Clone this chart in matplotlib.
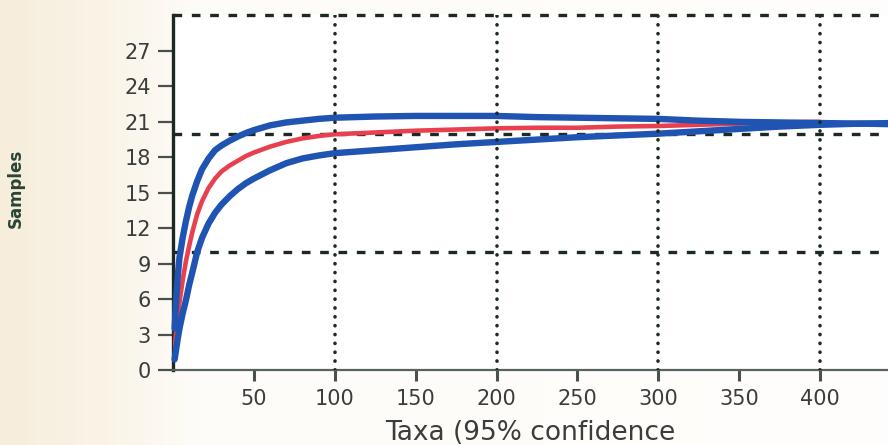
import matplotlib
matplotlib.use("Agg")
import matplotlib.pyplot as plt
import numpy as np
from matplotlib.colors import LinearSegmentedColormap

# Rarefaction curve: mean with upper / lower 95% confidence bounds
taxa = [1, 2, 3, 4, 6, 8, 10, 12, 15, 18, 22, 26, 30, 35, 40, 45, 50, 60,
        70, 80, 90, 100, 125, 150, 175, 200, 225, 250, 275, 300, 325, 350,
        375, 400, 425, 445]
upper = [3.5, 6.0, 8.0, 9.5, 11.2, 12.6, 13.8, 14.8, 16.0, 17.0, 17.9,
         18.6, 19.0, 19.4, 19.75, 20.05, 20.3, 20.7, 20.95, 21.1, 21.25,
         21.35, 21.45, 21.5, 21.5, 21.5, 21.4, 21.35, 21.3, 21.25, 21.1,
         21.0, 20.95, 20.9, 20.85, 20.8]
mean = [1.8, 3.3, 4.6, 5.7, 7.6, 9.2, 10.5, 11.7, 13.2, 14.3, 15.4, 16.2,
        16.8, 17.3, 17.7, 18.1, 18.4, 18.9, 19.3, 19.6, 19.8, 19.95, 20.1,
        20.25, 20.35, 20.45, 20.5, 20.5, 20.6, 20.65, 20.75, 20.85, 20.95,
        21.0]
lower = [0.9, 1.8, 2.7, 3.5, 4.8, 5.9, 7.2, 8.3, 10.0, 11.2, 12.4, 13.3,
         14.0, 14.7, 15.3, 15.8, 16.2, 16.9, 17.5, 17.9, 18.15, 18.35,
         18.6, 18.85, 19.1, 19.3, 19.5, 19.7, 19.85, 20.0, 20.2, 20.4,
         20.6, 20.75, 20.85, 20.9]

x_ticks = [50, 100, 150, 200, 250, 300, 350, 400]
y_ticks = [0, 3, 6, 9, 12, 15, 18, 21, 24, 27]
h_grid = [10, 20, 30]
v_grid = [100, 200, 300, 400]

BLUE = "#1f54b3"
RED = "#e8404f"
INK = "#1d2a24"
TXT = "#3a3d3c"

fig = plt.figure(figsize=(8.88, 4.45), dpi=100, facecolor="#fdfcf8")

# paper tint: cream on the left fading to white
bg = fig.add_axes([0, 0, 1, 1], zorder=-10)
bg.set_axis_off()
paper = LinearSegmentedColormap.from_list(
    "paper", [(0.0, "#f6eddb"), (0.12, "#faf4e8"), (0.22, "#fefcf8"),
              (1.0, "#fefefc")])
bg.imshow(np.linspace(0, 1, 256)[None, :], aspect="auto", cmap=paper,
          extent=[0, 1, 0, 1])
bg.set_xlim(0, 1)
bg.set_ylim(0, 1)

ax = fig.add_axes([0.1948, 0.1685, 0.8052, 0.7967])
ax.set_facecolor("white")

ax.set_xlim(0, 442)
ax.set_ylim(0, 30)

# dashed horizontal guides (below curves)
for yv in h_grid:
    ax.axhline(yv, color=INK, lw=2.4, linestyle=(0, (2.6, 2.9)),
               zorder=1.5, clip_on=False)

ax.plot(taxa[:len(mean)], mean, color=RED, lw=3.3, zorder=3,
        solid_capstyle="round")
ax.plot(taxa, lower, color=BLUE, lw=4.6, zorder=3.2, solid_capstyle="round",
        solid_joinstyle="round", clip_on=False)
ax.plot(taxa, upper, color=BLUE, lw=4.6, zorder=3.2, solid_capstyle="round",
        solid_joinstyle="round", clip_on=False)

# dotted vertical guides (over curves)
for xv in v_grid:
    ax.axvline(xv, color=INK, lw=2.6, linestyle=(0, (0.05, 2.4)),
               dash_capstyle="round", zorder=4)

for side in ("top", "right"):
    ax.spines[side].set_visible(False)
ax.spines["left"].set_color(INK)
ax.spines["left"].set_linewidth(2.4)
ax.spines["bottom"].set_color("#5a6260")
ax.spines["bottom"].set_linewidth(1.6)

ax.set_xticks(x_ticks)
ax.set_yticks(y_ticks)
ax.tick_params(axis="y", length=11, width=1.6, color="#4a504e", pad=5,
               labelsize=15, labelcolor=TXT)
ax.tick_params(axis="x", length=8, width=2.2, color="#4a504e", pad=6,
               labelsize=15, labelcolor=TXT)
for lab in ax.get_xticklabels() + ax.get_yticklabels():
    lab.set_family("DejaVu Sans")

fig.text(530 / 888, 1 - 440 / 445, "Taxa (95% confidence", ha="center",
         va="baseline", fontsize=19, color=TXT, family="DejaVu Sans")
fig.text(16 / 888, 1 - 188 / 445, "Samples", rotation=90, ha="center",
         va="center", fontsize=12, fontweight="bold", color="#2a4434",
         family="DejaVu Sans")

fig.savefig("out.png", dpi=100, facecolor=fig.get_facecolor())
